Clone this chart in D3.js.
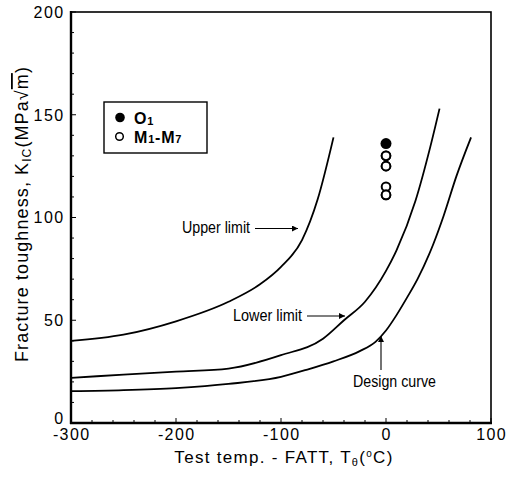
<!DOCTYPE html>
<html>
<head>
<meta charset="utf-8">
<script src="https://cdn.jsdelivr.net/npm/d3@7"></script>
<style>
  html, body { margin: 0; padding: 0; background: #fff; }
  svg { display: block; }
  text { fill: #000; }
</style>
</head>
<body>
<svg id="chart" width="516" height="480"></svg>
<script>
// Fracture toughness vs (test temperature - FATT)
const upperLimit = [[-300,40],[-250,43],[-200,49.5],[-150,59],[-120,67.5],[-100,76],[-80,89],[-65,109],[-50,139]];
const lowerLimit = [[-300,22],[-250,23.5],[-200,25],[-150,26.5],[-100,33],[-60,41],[-40,50],[-20,59],[0,74],[10,84],[28,108],[42,134],[51,153]];
const designCurve = [[-300,15.5],[-250,16],[-200,17],[-150,19],[-100,22.5],[-75,26],[-50,30],[-25,35],[-10,39.5],[0,45],[10,52.5],[20,61],[30,70],[45,87],[55,101],[67,120],[81,139]];

// Measured toughness at T - FATT = 0
const o1Temp = [0];
const o1Values = [136];
const mTemp = [0, 0, 0, 0, 0, 0, 0];
const mValues = [130, 130, 125, 125, 115, 111, 111];

const xTickLabels = [-300, -200, -100, 0, 100];
const yTickLabels = [0, 50, 100, 150, 200];

const svg = d3.select("#chart");
const plotL = 71, plotR = 491, plotT = 12, plotB = 423;

const x = d3.scaleLinear().domain([-300, 100]).range([plotL, plotR]);
const y = d3.scaleLinear().domain([0, 200]).range([plotB, plotT]);

const font = "'Liberation Sans', Arial, Helvetica, sans-serif";

// frame
svg.append("rect")
  .attr("x", plotL).attr("y", plotT)
  .attr("width", plotR - plotL).attr("height", plotB - plotT)
  .attr("fill", "none").attr("stroke", "#000").attr("stroke-width", 1.6);

// bottom axis: minor ticks every 20, labels at 100
const xAxis = svg.append("g").attr("transform", `translate(0,${plotB})`);
xAxis.append("line").attr("x1", plotL - 1).attr("x2", plotR + 1).attr("stroke", "#000").attr("stroke-width", 2.4);
xAxis.selectAll("line.tick").data(d3.range(-300, 101, 20)).join("line")
  .attr("class", "tick")
  .attr("x1", d => x(d)).attr("x2", d => x(d))
  .attr("y1", 0).attr("y2", d => d % 100 === 0 ? -5 : -3)
  .attr("stroke", "#000").attr("stroke-width", 1);
xAxis.selectAll("text").data(xTickLabels).join("text")
  .attr("x", d => x(d) + 0.7).attr("y", 16.5)
  .attr("text-anchor", "middle")
  .attr("font-family", font).attr("font-size", 16)
  .attr("letter-spacing", 1.4)
  .text(d => d);

// left axis: minor ticks every 10, labels at 50
const yAxis = svg.append("g").attr("transform", `translate(${plotL},0)`);
yAxis.append("line").attr("y1", plotT - 1).attr("y2", plotB + 1).attr("stroke", "#000").attr("stroke-width", 2.4);
yAxis.selectAll("line.tick").data(d3.range(0, 201, 10)).join("line")
  .attr("class", "tick")
  .attr("y1", d => y(d)).attr("y2", d => y(d))
  .attr("x1", 0).attr("x2", d => d % 50 === 0 ? 5 : 3)
  .attr("stroke", "#000").attr("stroke-width", 1);
yAxis.selectAll("text").data(yTickLabels).join("text")
  .attr("x", -6.5).attr("y", d => y(d) - (d === 0 ? 5 : 0))
  .attr("dy", "0.36em")
  .attr("text-anchor", "end")
  .attr("font-family", font).attr("font-size", 16)
  .attr("letter-spacing", 1.4)
  .text(d => d);

// axis titles
const xt = svg.append("text")
  .attr("x", 284).attr("y", 463)
  .attr("text-anchor", "middle")
  .attr("font-family", font).attr("font-size", 17)
  .attr("letter-spacing", 1.3);
xt.append("tspan").text("Test temp. - FATT, T");
xt.append("tspan").attr("font-size", 11).attr("dy", 3).text("θ");
xt.append("tspan").attr("dy", -3).text("(");
xt.append("tspan").attr("font-size", 10).attr("dy", -6).text("o");
xt.append("tspan").attr("dy", 6).text("C)");

const yt = svg.append("text")
  .attr("transform", "translate(28,214) rotate(-90)")
  .attr("text-anchor", "middle")
  .attr("font-family", font).attr("font-size", 18)
  .attr("letter-spacing", 1.1);
yt.append("tspan").text("Fracture toughness, K");
yt.append("tspan").attr("font-size", 12).attr("dy", 3).text("IC");
yt.append("tspan").attr("dy", -3).text("(MPa");
yt.append("tspan").text("√");
yt.append("tspan").attr("text-decoration", "overline").text("m");
yt.append("tspan").text(")");

// curves
const line = d3.line().x(d => x(d[0])).y(d => y(d[1])).curve(d3.curveMonotoneX);
[upperLimit, lowerLimit, designCurve].forEach(data => {
  svg.append("path").datum(data)
    .attr("d", line)
    .attr("fill", "none").attr("stroke", "#000").attr("stroke-width", 1.8)
    .attr("stroke-linejoin", "round");
});

// points
svg.selectAll("circle.m").data(mValues).join("circle")
  .attr("class", "m")
  .attr("cx", (d, i) => x(mTemp[i])).attr("cy", d => y(d)).attr("r", 4.3)
  .attr("fill", "#fff").attr("stroke", "#000").attr("stroke-width", 2);
svg.selectAll("circle.o").data(o1Values).join("circle")
  .attr("class", "o")
  .attr("cx", (d, i) => x(o1Temp[i])).attr("cy", d => y(d)).attr("r", 5.5)
  .attr("fill", "#000");

// arrow heads
const defs = svg.append("defs");
defs.append("marker").attr("id", "ah")
  .attr("viewBox", "0 0 10 10").attr("refX", 10).attr("refY", 5)
  .attr("markerWidth", 9).attr("markerHeight", 6).attr("markerUnits", "userSpaceOnUse")
  .attr("orient", "auto")
  .append("path").attr("d", "M0,0L10,5L0,10Z").attr("fill", "#000");

// curve labels with leader arrows (condensed type)
function note(label, tx, ty, width, x1, y1, x2, y2) {
  svg.append("text").attr("x", tx).attr("y", ty)
    .attr("font-family", font).attr("font-size", 16)
    .attr("textLength", width).attr("lengthAdjust", "spacingAndGlyphs")
    .text(label);
  svg.append("line").attr("x1", x1).attr("y1", y1).attr("x2", x2).attr("y2", y2)
    .attr("stroke", "#000").attr("stroke-width", 1.1).attr("marker-end", "url(#ah)");
}
note("Upper limit", 182, 233, 68, 255, 228.5, 298, 228.5);
note("Lower limit", 233, 321, 69, 307, 316, 345, 316);
note("Design curve", 353, 387, 83, 381, 370, 381, 336);

// legend
const lg = svg.append("g");
lg.append("rect").attr("x", 104).attr("y", 102).attr("width", 103).attr("height", 51)
  .attr("fill", "#fff").attr("stroke", "#000").attr("stroke-width", 1.4);
lg.append("circle").attr("cx", 120).attr("cy", 117.5).attr("r", 4.8).attr("fill", "#000");
lg.append("circle").attr("cx", 119.5).attr("cy", 136.5).attr("r", 3.8)
  .attr("fill", "#fff").attr("stroke", "#000").attr("stroke-width", 1.5);
const l1 = lg.append("text").attr("x", 134).attr("y", 124)
  .attr("font-family", font).attr("font-size", 16).attr("font-weight", "bold")
  .attr("letter-spacing", 0.8);
l1.append("tspan").text("O");
l1.append("tspan").attr("font-size", 11).attr("dy", 0.5).text("1");
const l2 = lg.append("text").attr("x", 134).attr("y", 142.5)
  .attr("font-family", font).attr("font-size", 16).attr("font-weight", "bold")
  .attr("letter-spacing", 0.8);
l2.append("tspan").text("M");
l2.append("tspan").attr("font-size", 11).attr("dy", 0.5).text("1");
l2.append("tspan").attr("dy", -0.5).text("-M");
l2.append("tspan").attr("font-size", 11).attr("dy", 0.5).text("7");
</script>
</body>
</html>
